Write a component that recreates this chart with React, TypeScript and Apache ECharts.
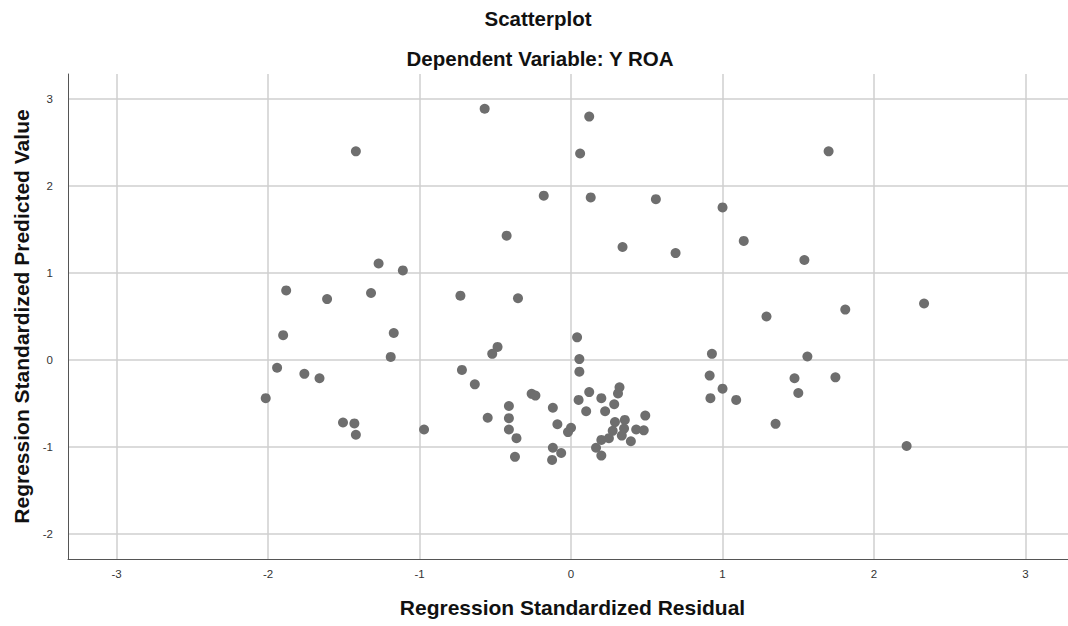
import React, { useEffect, useRef } from "react";
import * as echarts from "echarts";

const titleText = "Scatterplot";
const subtitleText = "Dependent Variable: Y ROA";
const xAxisName = "Regression Standardized Residual";
const yAxisName = "Regression Standardized Predicted Value";

const xTicks = [-3, -2, -1, 0, 1, 2, 3];
const yTicks = [-2, -1, 0, 1, 2, 3];

// Regression standardized residuals (x)
const residuals = [
  -0.57, 0.12, -1.42, 0.06, -0.18, 0.13, -0.425, -1.27, -1.11, -1.88, -1.61, -1.32, -0.73, -0.35,
  1.70, 0.56, 1.00, 0.34, 0.69, 1.14, 1.54, 1.29, 1.81, 2.33,
  -1.90, -1.17, -1.19, -1.94, -1.76, -1.66, -2.015, -1.505, -1.43, -1.42, -0.97,
  0.04, -0.485, -0.52, 0.055, -0.72, 0.055, -0.635, -0.26, -0.235, 0.32, 0.31, 0.12, 0.20, 0.05,
  0.285, -0.41, -0.12, 0.10, 0.225, 0.49, -0.55, -0.41, 0.29, 0.355, -0.09, 0.35, 0.43, 0.48,
  0.275, 0.0, -0.02, -0.41, 0.335, 0.25, 0.20, 0.395, -0.36, -0.12, -0.065, -0.125, 0.165, 0.20, -0.37,
  0.93, 1.56, 0.915, 1.475, 1.745, 1.0, 1.50, 0.92, 1.09, 1.35, 2.215,
];

// Regression standardized predicted values (y)
const predicted = [
  2.89, 2.80, 2.40, 2.375, 1.89, 1.87, 1.43, 1.11, 1.03, 0.80, 0.70, 0.77, 0.74, 0.71,
  2.40, 1.85, 1.755, 1.30, 1.23, 1.37, 1.15, 0.50, 0.58, 0.65,
  0.285, 0.31, 0.035, -0.09, -0.16, -0.21, -0.44, -0.72, -0.73, -0.86, -0.80,
  0.26, 0.15, 0.07, 0.01, -0.115, -0.135, -0.28, -0.39, -0.41, -0.315, -0.385, -0.37, -0.44, -0.46,
  -0.51, -0.53, -0.55, -0.59, -0.59, -0.64, -0.665, -0.67, -0.715, -0.69, -0.74, -0.79, -0.80, -0.81,
  -0.815, -0.78, -0.83, -0.80, -0.87, -0.90, -0.92, -0.935, -0.90, -1.01, -1.07, -1.15, -1.01, -1.10, -1.115,
  0.07, 0.04, -0.18, -0.21, -0.20, -0.33, -0.38, -0.44, -0.46, -0.735, -0.99,
];

const FONT = "'Liberation Sans', Arial, sans-serif";

export default function App() {
  const ref = useRef<HTMLDivElement>(null);

  useEffect(() => {
    if (!ref.current) return;
    const chart = echarts.init(ref.current, undefined, { renderer: "svg" });
    const data = residuals.map((x, i) => [x, predicted[i]]);
    chart.setOption({
      animation: false,
      backgroundColor: "#ffffff",
      graphic: [
        {
          type: "text",
          x: 538,
          y: 18,
          style: {
            text: titleText,
            fontFamily: FONT,
            fontSize: 20.5,
            fontWeight: "bold",
            fill: "#111",
            align: "center",
            verticalAlign: "middle",
          },
        },
        {
          type: "text",
          x: 540,
          y: 58,
          style: {
            text: subtitleText,
            fontFamily: FONT,
            fontSize: 20.5,
            fontWeight: "bold",
            fill: "#111",
            align: "center",
            verticalAlign: "middle",
          },
        },
      ],
      grid: { left: 68, top: 74, right: 0, bottom: 67, containLabel: false, outerBoundsMode: "none" },
      xAxis: {
        type: "value",
        min: -3.32,
        max: 3.28,
        name: xAxisName,
        nameLocation: "middle",
        nameGap: 38,
        nameTextStyle: {
          fontFamily: FONT,
          fontSize: 21,
          fontWeight: "bold",
          color: "#111",
          padding: [0, 0, 0, 9],
        },
        axisLine: { show: true, onZero: false, lineStyle: { color: "#555", width: 1 } },
        axisTick: { show: false, customValues: xTicks },
        axisLabel: {
          customValues: xTicks,
          fontFamily: FONT,
          fontSize: 11.5,
          color: "#333",
          margin: 9,
        },
        splitLine: { show: true, lineStyle: { color: "#cfcfcf", width: 1.5 } },
      },
      yAxis: {
        type: "value",
        min: -2.29,
        max: 3.29,
        name: yAxisName,
        nameLocation: "middle",
        nameGap: 36,
        nameTextStyle: { fontFamily: FONT, fontSize: 21, fontWeight: "bold", color: "#111" },
        axisLine: { show: true, onZero: false, lineStyle: { color: "#555", width: 1 } },
        axisTick: { show: false, customValues: yTicks },
        axisLabel: {
          customValues: yTicks,
          fontFamily: FONT,
          fontSize: 11.5,
          color: "#333",
          margin: 15,
        },
        splitLine: { show: true, lineStyle: { color: "#cfcfcf", width: 1.5 } },
      },
      series: [
        {
          type: "scatter",
          data,
          symbol: "circle",
          symbolSize: 10,
          itemStyle: { color: "#6e6e6e", opacity: 1 },
        },
      ],
    });
    return () => chart.dispose();
  }, []);

  return (
    <div
      ref={ref}
      style={{ position: "fixed", left: 0, top: 0, width: 1068, height: 626, background: "#fff" }}
    />
  );
}
